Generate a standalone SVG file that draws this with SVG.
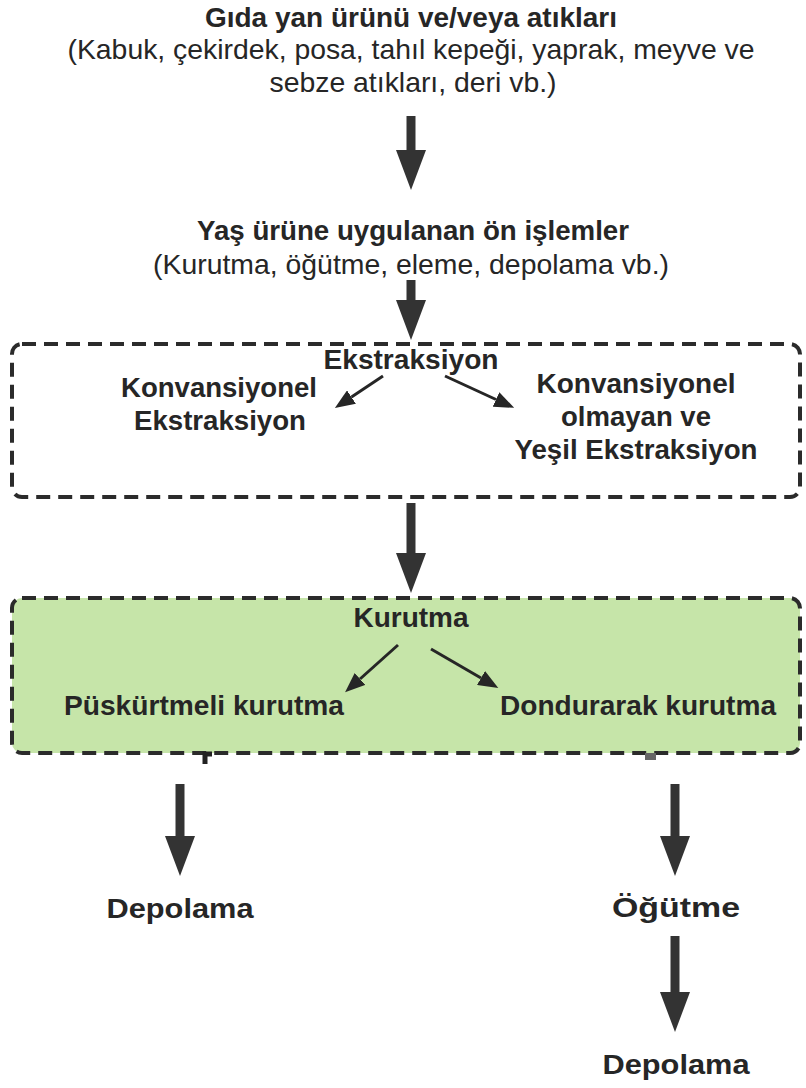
<svg xmlns="http://www.w3.org/2000/svg" width="806" height="1088" viewBox="0 0 806 1088">
<style>
text{font-family:"Liberation Sans",Arial,sans-serif;fill:#262626;text-anchor:middle}
.b{font-weight:bold;font-size:28px}
.r{font-size:28px}
.box{stroke:#2b2b2b;stroke-width:4;stroke-dasharray:14 8}
.shaft{stroke:#333;stroke-width:9;fill:none}
.thin{stroke:#262626;stroke-width:3;fill:none}
</style>
<defs>
<marker id="big" markerUnits="userSpaceOnUse" viewBox="0 0 40 30" markerWidth="40" markerHeight="30" refX="0" refY="15" orient="auto">
<path d="M0,0 L40,15 L0,30 z" fill="#333"/>
</marker>
<marker id="small" markerUnits="userSpaceOnUse" viewBox="0 0 20 16" markerWidth="20" markerHeight="16" refX="0" refY="8" orient="auto">
<path d="M0,0 L20,8 L0,16 z" fill="#262626"/>
</marker>
</defs>
<rect width="806" height="1088" fill="#fff"/>

<g id="source">
<text class="b" x="411" y="27" textLength="412" lengthAdjust="spacingAndGlyphs">Gıda yan ürünü ve/veya atıkları</text>
<text class="r" x="411" y="59" textLength="687" lengthAdjust="spacingAndGlyphs">(Kabuk, çekirdek, posa, tahıl kepeği, yaprak, meyve ve</text>
<text class="r" x="413" y="92" textLength="287" lengthAdjust="spacingAndGlyphs">sebze atıkları, deri vb.)</text>
</g>

<g id="pretreatment">
<text class="b" x="413" y="240" textLength="432" lengthAdjust="spacingAndGlyphs">Yaş ürüne uygulanan ön işlemler</text>
<text class="r" x="411" y="274" textLength="516" lengthAdjust="spacingAndGlyphs">(Kurutma, öğütme, eleme, depolama vb.)</text>
</g>

<g id="extraction">
<rect class="box" x="12" y="344" width="788" height="153" rx="10" fill="#fff"/>
<text class="b" x="411" y="369" textLength="175" lengthAdjust="spacingAndGlyphs">Ekstraksiyon</text>
<text class="b" x="219" y="397" textLength="196" lengthAdjust="spacingAndGlyphs">Konvansiyonel</text>
<text class="b" x="220" y="430" textLength="172" lengthAdjust="spacingAndGlyphs">Ekstraksiyon</text>
<text class="b" x="636" y="393" textLength="199" lengthAdjust="spacingAndGlyphs">Konvansiyonel</text>
<text class="b" x="636" y="426" textLength="150" lengthAdjust="spacingAndGlyphs">olmayan ve</text>
<text class="b" x="636" y="459" textLength="243" lengthAdjust="spacingAndGlyphs">Yeşil Ekstraksiyon</text>
<line class="thin" x1="383" y1="376" x2="351.5" y2="397" marker-end="url(#small)"/>
<line class="thin" x1="445" y1="376" x2="496" y2="399.5" marker-end="url(#small)"/>
</g>

<g id="drying">
<rect class="box" x="12" y="598" width="788" height="155" rx="10" fill="#c6e5a9"/>
<text class="b" x="411" y="627" textLength="115" lengthAdjust="spacingAndGlyphs">Kurutma</text>
<text class="b" x="204" y="715" textLength="280" lengthAdjust="spacingAndGlyphs">Püskürtmeli kurutma</text>
<text class="b" x="638" y="715" textLength="276" lengthAdjust="spacingAndGlyphs">Dondurarak kurutma</text>
<line class="thin" x1="398" y1="645" x2="360" y2="679" marker-end="url(#small)"/>
<line class="thin" x1="431" y1="649" x2="481" y2="678" marker-end="url(#small)"/>
</g>

<g id="storage1">
<text class="b" x="180" y="918" textLength="147" lengthAdjust="spacingAndGlyphs">Depolama</text>
</g>
<g id="grinding">
<text class="b" x="676" y="917" textLength="128" lengthAdjust="spacingAndGlyphs">Öğütme</text>
</g>
<g id="storage2">
<text class="b" x="676" y="1074" textLength="147" lengthAdjust="spacingAndGlyphs">Depolama</text>
</g>

<g id="connectors">
<line class="shaft" x1="411" y1="116" x2="411" y2="150" marker-end="url(#big)"/>
<line class="shaft" x1="411" y1="280" x2="411" y2="300" marker-end="url(#big)"/>
<line class="shaft" x1="411" y1="503" x2="411" y2="553" marker-end="url(#big)"/>
<path d="M205,764 V754 H212" stroke="#222" stroke-width="5" fill="none"/>
<rect x="645" y="753" width="11" height="7" fill="#666"/>
<line class="shaft" x1="180" y1="784" x2="180" y2="836" marker-end="url(#big)"/>
<line class="shaft" x1="675" y1="784" x2="675" y2="836" marker-end="url(#big)"/>
<line class="shaft" x1="675" y1="936" x2="675" y2="992" marker-end="url(#big)"/>
</g>
</svg>
